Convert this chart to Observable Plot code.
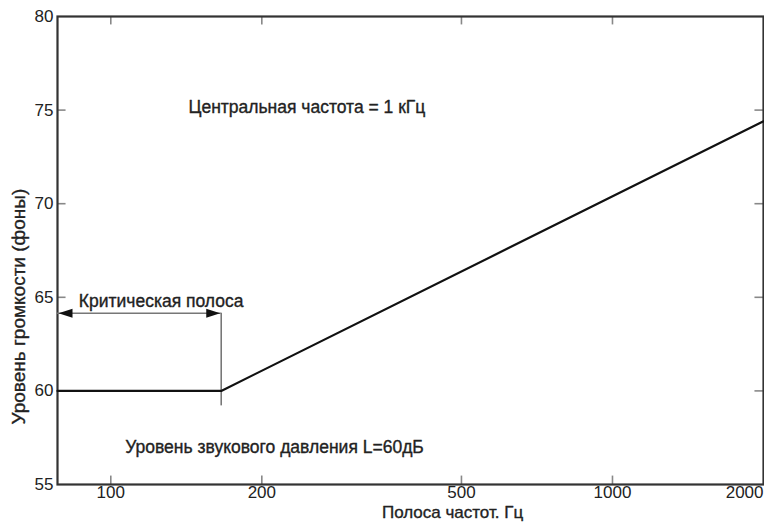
<!DOCTYPE html>
<html>
<head>
<meta charset="utf-8">
<script src="https://cdn.jsdelivr.net/npm/d3@7"></script>
<script src="https://cdn.jsdelivr.net/npm/@observablehq/plot@0.6"></script>
<style>
  html, body { margin: 0; padding: 0; background: #fff; }
  svg { display: block; }
</style>
</head>
<body>
<div id="chart"></div>
<script>
// Data
const freqs = [78.3, 166, 2000];          // Hz
const phons = [60, 60, 74.4];             // loudness level (phons)
const xTicks = [100, 200, 500, 1000, 2000];
const yTicks = [55, 60, 65, 70, 75, 80];
const xDomain = [78.3, 2000];
const yDomain = [55, 80];
const criticalBand = 166;                 // Hz
const arrowLevel = 64.15;
const bandBottom = 59.2;
const yTickLen = 0.45;                    // inward tick length, phons
const xTickFactor = 1.04;                 // inward tick length, log factor

const lineData = freqs.map((f, i) => ({f, p: phons[i]}));

const notes = [
  {text: "Центральная частота = 1 кГц", f: 246, p: 75.15},
  {text: "Критическая полоса", f: 126, p: 64.8},
  {text: "Уровень звукового давления L=60дБ", f: 212, p: 57.0}
];

const headRight = {draw(ctx) { ctx.moveTo(7, 0); ctx.lineTo(-7, -4.5); ctx.lineTo(-7, 4.5); ctx.closePath(); }};
const headLeft = {draw(ctx) { ctx.moveTo(-7, 0); ctx.lineTo(7, -4.5); ctx.lineTo(7, 4.5); ctx.closePath(); }};

const font = "Liberation Sans, Arial, sans-serif";
const txt = {fontSize: 17.5, fill: "#222", stroke: "#222", strokeWidth: 0.35};
const tickStyle = {stroke: "#888", strokeWidth: 1.6};

const innerX = xTicks.filter(d => d < xDomain[1]);
const innerY = yTicks.filter(d => d > yDomain[0] && d < yDomain[1]);

const chart = Plot.plot({
  width: 764,
  height: 523,
  marginLeft: 57,
  marginRight: 1,
  marginTop: 16,
  marginBottom: 39,
  style: {fontFamily: font, fontSize: "17px", color: "#222", background: "#fff"},
  x: {type: "log", domain: xDomain, axis: null},
  y: {domain: yDomain, axis: null},
  marks: [
    // inward ticks on all four sides
    Plot.ruleX(innerX, {x: d => d, y1: yDomain[0], y2: yDomain[0] + yTickLen, ...tickStyle}),
    Plot.ruleX(innerX, {x: d => d, y1: yDomain[1], y2: yDomain[1] - yTickLen, ...tickStyle}),
    Plot.ruleY(innerY, {y: d => d, x1: xDomain[0], x2: xDomain[0] * xTickFactor, ...tickStyle}),
    Plot.ruleY(innerY, {y: d => d, x1: xDomain[1], x2: xDomain[1] / xTickFactor, ...tickStyle}),
    // tick labels
    Plot.text(innerX, {x: d => d, frameAnchor: "bottom", dy: 13, text: d => String(d), fontSize: 17, fill: "#222"}),
    Plot.text(xTicks.filter(d => d >= xDomain[1]), {x: d => d, frameAnchor: "bottom", dy: 13, textAnchor: "end", text: d => String(d), fontSize: 17, fill: "#222"}),
    Plot.text(yTicks, {y: d => d, frameAnchor: "left", dx: -4, textAnchor: "end", text: d => String(d), fontSize: 17, fill: "#222"}),
    Plot.frame({stroke: "#333", strokeWidth: 2.2}),
    // critical band marker
    Plot.ruleX([criticalBand], {y1: bandBottom, y2: arrowLevel, stroke: "#777", strokeWidth: 1.6}),
    Plot.ruleY([arrowLevel], {x1: xDomain[0], x2: criticalBand, stroke: "#777", strokeWidth: 1.6}),
    Plot.dot([criticalBand], {x: d => d, y: arrowLevel, symbol: headRight, fill: "#111", stroke: "none", dx: -8, r: 4}),
    Plot.dot([xDomain[0]], {x: d => d, y: arrowLevel, symbol: headLeft, fill: "#111", stroke: "none", dx: 8, r: 4}),
    // loudness line
    Plot.line(lineData, {x: "f", y: "p", stroke: "#111", strokeWidth: 2.2}),
    // annotations
    Plot.text(notes, {x: "f", y: "p", text: "text", textAnchor: "middle", ...txt}),
    Plot.text(["Полоса частот. Гц"], {x: 480, frameAnchor: "bottom", dy: 33, text: d => d, ...txt, fontSize: 17}),
    Plot.text(["Уровень громкости (фоны)"], {x: xDomain[0], y: 64.5, dx: -39, rotate: -90, text: d => d, ...txt, fontSize: 19})
  ]
});
document.getElementById("chart").appendChild(chart);
</script>
</body>
</html>
